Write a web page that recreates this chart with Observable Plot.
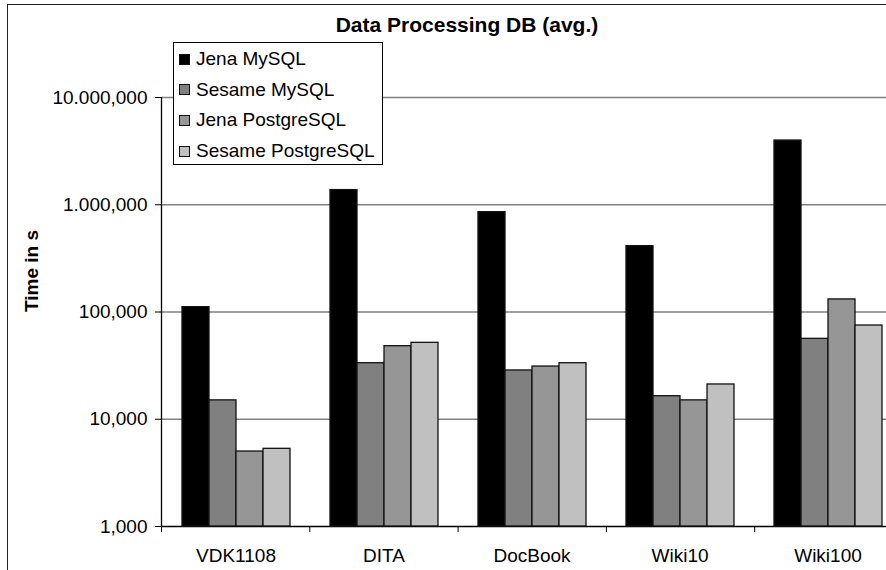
<!DOCTYPE html>
<html>
<head>
<meta charset="utf-8">
<script src="https://cdn.jsdelivr.net/npm/d3@7"></script>
<script src="https://cdn.jsdelivr.net/npm/@observablehq/plot@0.6"></script>
<style>
  html, body { margin: 0; padding: 0; background: #fff; overflow: hidden; }
  #wrap { position: relative; width: 886px; height: 570px; overflow: hidden; font-family: "Liberation Sans", Arial, sans-serif; }
  #frame { position: absolute; left: 7px; top: 4px; width: 1000px; height: 700px; border-left: 1.5px solid #222; border-top: 1.5px solid #222; }
  .layer { position: absolute; left: 0; top: 0; width: 920px; height: 570px; }
  .layer svg { max-width: none !important; width: 920px !important; height: 570px !important; }
  #title { position: absolute; left: 0; top: 14px; width: 934px; text-align: center; font-size: 21px; font-weight: bold; line-height: 21px; color: #000; }
  #legend { position: absolute; left: 173px; top: 42px; width: 208px; height: 120px; border: 1px solid #000; background: #fff; padding-top: 1px; }
  .item { height: 30.6px; line-height: 30.6px; font-size: 19px; color: #000; white-space: nowrap; display: flex; align-items: center; }
  .sw { width: 9px; height: 9px; border: 1.2px solid #111; margin-left: 5px; margin-right: 6px; flex: none; }
</style>
</head>
<body>
<div id="wrap">
  <div id="frame"></div>
  <div id="bg" class="layer"></div>
  <div id="fg" class="layer"></div>
  <div id="title">Data Processing DB (avg.)</div>
  <div id="legend"></div>
</div>
<script>
const categories = ["VDK1108", "DITA", "DocBook", "Wiki10", "Wiki100"];
const series = ["Jena MySQL", "Sesame MySQL", "Jena PostgreSQL", "Sesame PostgreSQL"];
const jenaMySQL = [111000, 1370000, 853000, 411000, 3970000];
const sesameMySQL = [15000, 33300, 28500, 16400, 56200];
const jenaPostgreSQL = [5000, 48000, 31000, 15000, 131000];
const sesamePostgreSQL = [5300, 51600, 33300, 21100, 74800];
const yTicks = [1000, 10000, 100000, 1000000, 10000000];
const yTickLabels = ["1,000", "10,000", "100,000", "1.000,000", "10.000,000"];
const colors = ["#000000", "#808080", "#969696", "#c0c0c0"];
const yLabel = "Time in s";

const seriesValues = [jenaMySQL, sesameMySQL, jenaPostgreSQL, sesamePostgreSQL];
const rows = [];
categories.forEach((c, i) => {
  series.forEach((s, j) => rows.push({category: c, series: s, value: seriesValues[j][i]}));
});

const W = 920, H = 570;
const margins = {marginLeft: 161, marginRight: 17.5, marginTop: 97, marginBottom: 44};
const style = {fontFamily: "'Liberation Sans', Arial, sans-serif", fontSize: "19px", color: "#000", background: "transparent", overflow: "visible", maxWidth: "none"};
const yDomain = [yTicks[0], yTicks[yTicks.length - 1]];

const bg = Plot.plot({
  width: W, height: H, ...margins, style,
  x: {type: "linear", domain: [0, categories.length], ticks: d3.range(categories.length + 1), tickSize: 6, tickFormat: () => "", label: null, axis: "bottom"},
  y: {type: "log", domain: yDomain, ticks: yTicks, tickFormat: d => yTickLabels[yTicks.indexOf(d)], tickSize: 6, tickPadding: 8, label: null},
  marks: [
    Plot.ruleY(yTicks.slice(1), {stroke: "#808080", strokeWidth: 1.6}),
    Plot.ruleY([yTicks[0]], {stroke: "#000", strokeWidth: 1.3}),
    Plot.ruleX([0], {stroke: "#000", strokeWidth: 1.3}),
    Plot.text([yLabel], {text: d => d, frameAnchor: "left", dx: -130, rotate: -90, fontWeight: "bold", fontSize: 19, fill: "#000"})
  ]
});
document.getElementById("bg").appendChild(bg);

const fg = Plot.plot({
  width: W, height: H, ...margins, style,
  facet: {data: rows, x: "category"},
  fx: {domain: categories, paddingInner: 0.265, paddingOuter: 0.1325, axis: "bottom", tickSize: 0, tickPadding: 22, label: null},
  x: {domain: series, paddingInner: 0, paddingOuter: 0, axis: null},
  y: {type: "log", domain: yDomain, axis: null},
  color: {domain: series, range: colors},
  marks: [
    Plot.barY(rows, {x: "series", y1: yTicks[0], y2: "value", fill: "series", stroke: "#111", strokeWidth: 1.3, inset: 0})
  ]
});
document.getElementById("fg").appendChild(fg);

const legend = document.getElementById("legend");
series.forEach((s, i) => {
  const item = document.createElement("div");
  item.className = "item";
  const sw = document.createElement("span");
  sw.className = "sw";
  sw.style.background = colors[i];
  item.appendChild(sw);
  item.appendChild(document.createTextNode(s));
  legend.appendChild(item);
});
</script>
</body>
</html>
